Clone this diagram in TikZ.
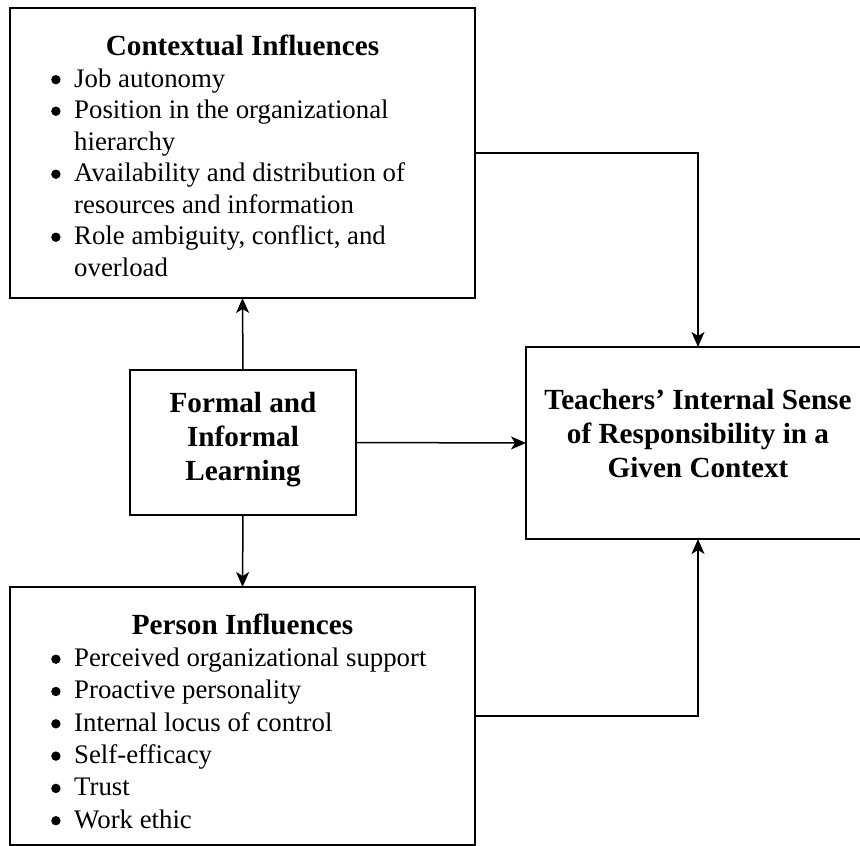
\documentclass[tikz,border=0pt]{standalone}
\usepackage{fontspec}
\setmainfont{Liberation Serif}
\usetikzlibrary{arrows.meta}
\newcommand{\itembul}{\makebox[23pt][l]{\tikz[baseline=-7.3pt]\fill (0pt,0pt) circle (4.7pt);}}
\begin{document}
\begin{tikzpicture}[x=1pt,y=-1pt,
  boxnode/.style={draw, line width=2pt, inner sep=0pt, outer sep=0pt},
  ttl/.style={font=\fontsize{29.2}{34}\selectfont\bfseries, anchor=base, inner sep=0pt},
  itm/.style={font=\fontsize{26.8}{31}\selectfont, anchor=base west, inner sep=0pt},
  conn/.style={line width=1.5pt, -{Stealth[length=15pt, width=13pt, inset=4pt]}}]
\useasboundingbox (0,0) rectangle (860,846);
\clip (0,0) rectangle (860,846);
% boxes
\node[boxnode, minimum width=465pt, minimum height=290pt] (top) at (242.5,153) {};
\node[boxnode, minimum width=226pt, minimum height=145pt] (mid) at (243,442.5) {};
\node[boxnode, minimum width=344pt, minimum height=192pt] (res) at (698,443) {};
\node[boxnode, minimum width=465pt, minimum height=258pt] (bot) at (242.5,716) {};
% top box text
\node[ttl] (ttop) at (242.5,55) {Contextual Influences};
\node[itm] (t1) at (51,87) {\itembul Job autonomy};
\node[itm] (t2) at (51,118.5) {\itembul Position in the organizational};
\node[itm] (t3) at (74,150) {hierarchy};
\node[itm] (t4) at (51,181.5) {\itembul Availability and distribution of};
\node[itm] (t5) at (74,213) {resources and information};
\node[itm] (t6) at (51,244.5) {\itembul Role ambiguity, conflict, and};
\node[itm] (t7) at (74,276) {overload};
% middle box text
\node[ttl] (m1) at (243,412) {Formal and};
\node[ttl] (m2) at (243,446) {Informal};
\node[ttl] (m3) at (243,480) {Learning};
% result box text
\node[ttl] (r1) at (698,409) {Teachers’ Internal Sense};
\node[ttl] (r2) at (698,443) {of Responsibility in a};
\node[ttl] (r3) at (698,477) {Given Context};
% bottom box text
\node[ttl] (tbot) at (242.5,634) {Person Influences};
\node[itm] (b1) at (51,666.5) {\itembul Perceived organizational support};
\node[itm] (b2) at (51,698.8) {\itembul Proactive personality};
\node[itm] (b3) at (51,731.1) {\itembul Internal locus of control};
\node[itm] (b4) at (51,763.4) {\itembul Self-efficacy};
\node[itm] (b5) at (51,795.7) {\itembul Trust};
\node[itm] (b6) at (51,828) {\itembul Work ethic};
% connectors
\draw[conn] (mid.north) -- (top.south);
\draw[conn] (mid.south) -- (bot.north);
\draw[conn] (mid.east) -- (res.west);
\draw[conn] (top.east) -| (res.north);
\draw[conn] (bot.east) -| (res.south);
\end{tikzpicture}
\end{document}
